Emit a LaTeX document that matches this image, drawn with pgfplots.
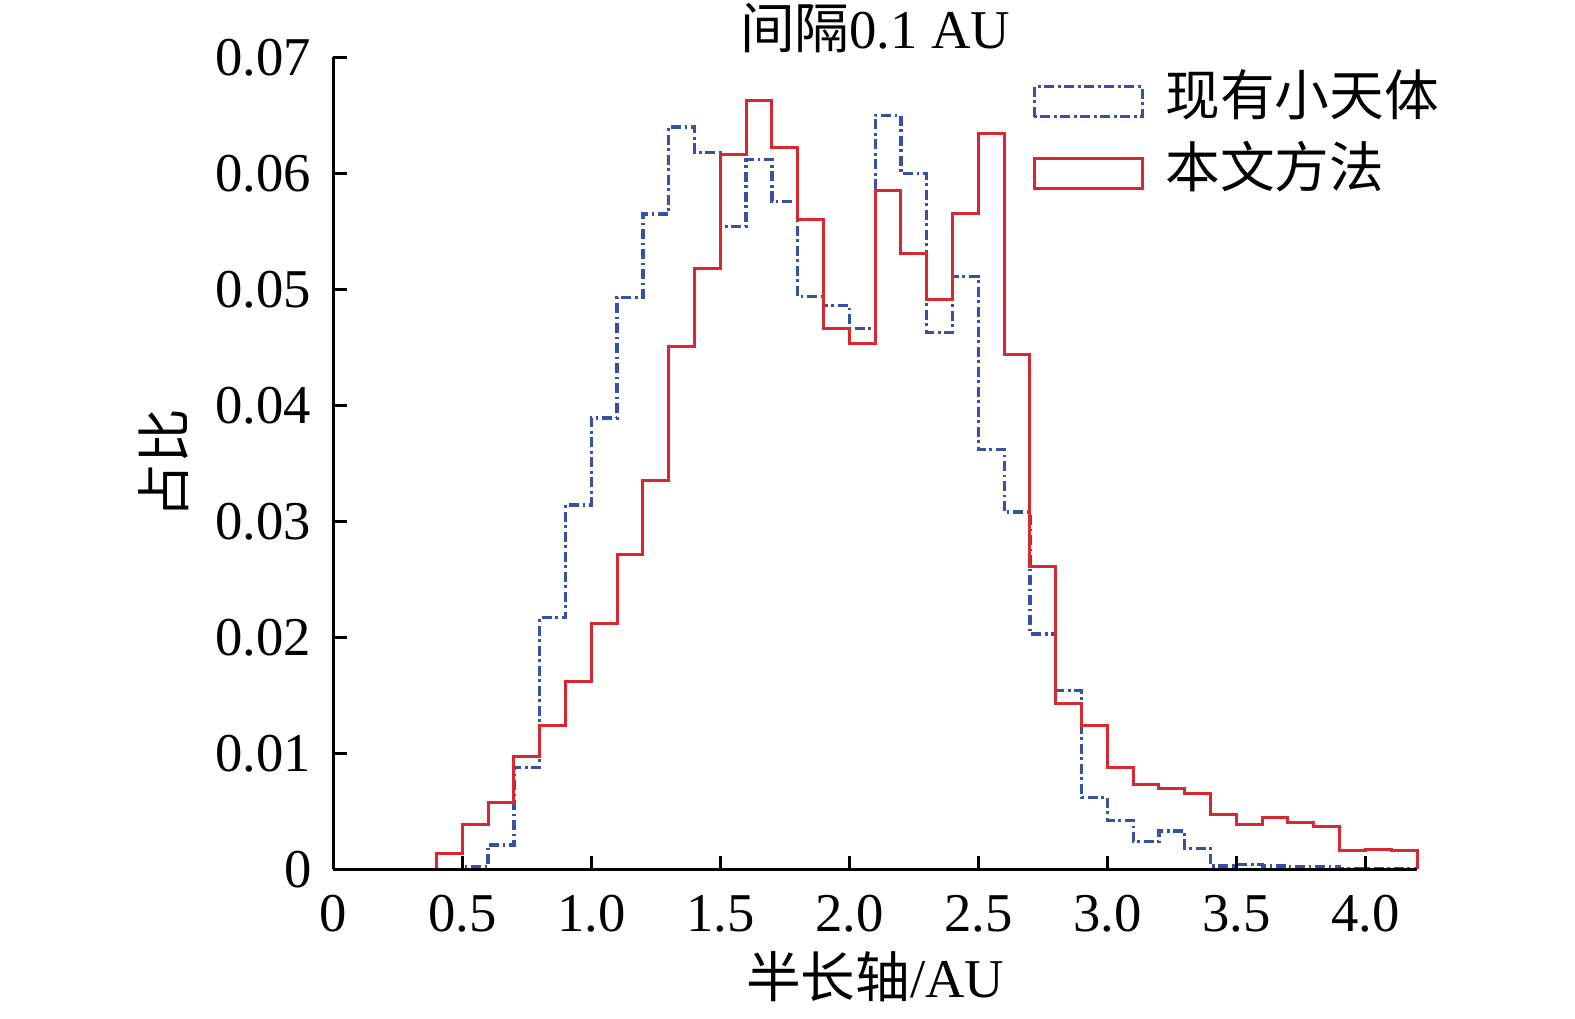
\documentclass[border=0pt]{standalone}
\usepackage{fontspec}
\setmainfont{Liberation Serif}
\newfontfamily\cjk{Noto Sans CJK SC}
\usepackage{pgfplots}
\usepackage{pgfplotstable}
\pgfplotsset{compat=1.18}
\definecolor{myblue}{RGB}{54,81,166}
\definecolor{myred}{RGB}{217,40,47}
\pgfplotsset{
  rectlegend/.style={legend image code/.code={\draw[##1,fill=none] (0pt,-6.3pt) rectangle (32.4pt,2.7pt);}},
}
\pgfplotstableread{
x y
0.0 0
0.5 0.0002
0.6 0.0021
0.7 0.0088
0.8 0.0217
0.9 0.0314
1.0 0.0389
1.1 0.0493
1.2 0.0565
1.3 0.0640
1.4 0.0618
1.5 0.0554
1.6 0.0612
1.7 0.0576
1.8 0.0494
1.9 0.0486
2.0 0.0466
2.1 0.0650
2.2 0.0600
2.3 0.0463
2.4 0.0511
2.5 0.0362
2.6 0.0308
2.7 0.0203
2.8 0.0154
2.9 0.0062
3.0 0.0042
3.1 0.0024
3.2 0.0033
3.3 0.0018
3.4 0.0003
3.5 0.0004
3.6 0.0003
3.7 0.0002
3.8 0.0002
3.9 0.0001
4.0 0.0001
4.1 0.0001
4.2 0
}\bluedata
\pgfplotstableread{
x y
0.0 0
0.4 0.0014
0.5 0.0039
0.6 0.0058
0.7 0.0097
0.8 0.0124
0.9 0.0162
1.0 0.0212
1.1 0.0271
1.2 0.0335
1.3 0.0451
1.4 0.0518
1.5 0.0616
1.6 0.0663
1.7 0.0622
1.8 0.0560
1.9 0.0466
2.0 0.0453
2.1 0.0585
2.2 0.0531
2.3 0.0491
2.4 0.0565
2.5 0.0634
2.6 0.0444
2.7 0.0261
2.8 0.0143
2.9 0.0124
3.0 0.0088
3.1 0.0073
3.2 0.0070
3.3 0.0065
3.4 0.0047
3.5 0.0039
3.6 0.0045
3.7 0.0040
3.8 0.0037
3.9 0.0016
4.0 0.0017
4.1 0.0016
4.2 0
}\reddata
\begin{document}
\fontsize{16.4}{19}\selectfont
\begin{tikzpicture}
\useasboundingbox (-100pt,-44.6pt) rectangle (372.5pt,260.8pt);
\begin{axis}[
  at={(0,0)}, anchor=south west,
  width=325.1pt, height=243.6pt, scale only axis,
  xmin=0, xmax=4.2, ymin=0, ymax=0.07,
  axis lines=left,
  axis line style={line width=0.8pt, black, -},
  axis on top,
  clip=false,
  scaled y ticks=false, scaled x ticks=false,
  xtick={0,0.5,1,1.5,2,2.5,3,3.5,4},
  xticklabels={0,0.5,1.0,1.5,2.0,2.5,3.0,3.5,4.0},
  ytick={0,0.01,0.02,0.03,0.04,0.05,0.06,0.07},
  yticklabels={0,0.01,0.02,0.03,0.04,0.05,0.06,0.07},
  /pgf/number format/assume math mode=true,
  tick align=inside,
  major tick length=4pt,
  tick style={line width=0.8pt, black},
  xticklabel style={anchor=base, yshift=-18.6pt, inner sep=0pt},
  yticklabel style={anchor=east, xshift=-6.4pt, inner sep=0pt},
  every axis title shift=0pt,
  title={{\cjk 间隔}0.1 AU},
  title style={at={(axis description cs:0.5,1)}, anchor=base, yshift=2.8pt, inner sep=0pt},
  xlabel={{\cjk 半长轴}/AU},
  xlabel style={at={(axis description cs:0.5,0)}, anchor=base, yshift=-38.4pt, inner sep=0pt},
  rectlegend,
  legend style={draw=none, fill=none, at={(axis description cs:0.6447,0.9864)}, anchor=north west,
    inner sep=0pt, row sep=5.6pt,
    nodes={inner sep=0pt, text height=14pt, text depth=2pt, font=\cjk},
    /tikz/every odd column/.append style={column sep=6.5pt}},
  legend cell align=left,
]
\addplot[const plot, color=myblue, line width=1pt, dash pattern=on 3pt off 1.1pt on 0.8pt off 1.1pt] table[x=x,y=y] {\bluedata};
\addlegendentry{现有小天体}
\addplot[const plot, color=myred, line width=0.9pt] table[x=x,y=y] {\reddata};
\addlegendentry{本文方法}
\node[rotate=90, inner sep=0pt] at ([xshift=-50.9pt]axis description cs:0,0.5) {\cjk 占比};
\end{axis}
\end{tikzpicture}
\end{document}
